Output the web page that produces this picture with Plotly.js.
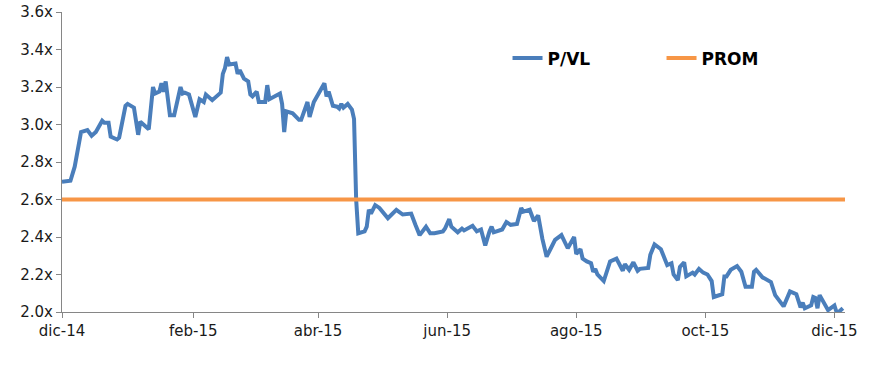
<!DOCTYPE html>
<html>
<head>
<meta charset="utf-8">
<script src="https://cdn.plot.ly/plotly-3.0.1.min.js"></script>
<style>html,body{margin:0;padding:0;background:#fff;}#chart{width:881px;height:370px;}</style>
</head>
<body>
<div id="chart"></div>
<script>
const dates = [
'2014-12-01','2014-12-05','2014-12-07','2014-12-09','2014-12-10','2014-12-13','2014-12-15','2014-12-17','2014-12-20','2014-12-21','2014-12-23','2014-12-24','2014-12-27','2014-12-28','2014-12-31',
'2015-01-01','2015-01-04','2015-01-06','2015-01-07','2015-01-11','2015-01-13','2015-01-14','2015-01-16','2015-01-17','2015-01-18','2015-01-19','2015-01-21','2015-01-23','2015-01-26','2015-01-27','2015-01-28','2015-01-30',
'2015-02-02','2015-02-04','2015-02-06','2015-02-07','2015-02-10','2015-02-14','2015-02-15','2015-02-16','2015-02-17','2015-02-18','2015-02-21','2015-02-22','2015-02-23','2015-02-25','2015-02-27','2015-02-28',
'2015-03-01','2015-03-03','2015-03-04','2015-03-07','2015-03-08','2015-03-09','2015-03-14','2015-03-15','2015-03-16','2015-03-17','2015-03-20','2015-03-23','2015-03-24','2015-03-27','2015-03-28','2015-03-30','2015-03-31',
'2015-04-02','2015-04-04','2015-04-05','2015-04-06','2015-04-08','2015-04-10','2015-04-11','2015-04-12','2015-04-13','2015-04-15','2015-04-17','2015-04-18','2015-04-19','2015-04-20','2015-04-23','2015-04-24','2015-04-25','2015-04-26','2015-04-28','2015-04-30',
'2015-05-04','2015-05-08','2015-05-11','2015-05-15','2015-05-17','2015-05-19','2015-05-22','2015-05-24','2015-05-26','2015-05-30','2015-05-31',
'2015-06-02','2015-06-03','2015-06-06','2015-06-08','2015-06-09','2015-06-13','2015-06-15','2015-06-17','2015-06-19','2015-06-21','2015-06-22','2015-06-23','2015-06-27','2015-06-29',
'2015-07-01','2015-07-04','2015-07-06','2015-07-07','2015-07-10','2015-07-12','2015-07-14','2015-07-16','2015-07-18','2015-07-20','2015-07-22','2015-07-25','2015-07-28','2015-07-31',
'2015-08-01','2015-08-03','2015-08-04','2015-08-06','2015-08-08','2015-08-09','2015-08-10','2015-08-11','2015-08-14','2015-08-17','2015-08-20','2015-08-23','2015-08-24','2015-08-26','2015-08-28','2015-08-30','2015-08-31',
'2015-09-04','2015-09-05','2015-09-07','2015-09-10','2015-09-13','2015-09-15','2015-09-16','2015-09-18','2015-09-19','2015-09-21','2015-09-22','2015-09-25','2015-09-26','2015-09-28','2015-09-30',
'2015-10-02','2015-10-04','2015-10-05','2015-10-09','2015-10-10','2015-10-11','2015-10-13','2015-10-16','2015-10-18','2015-10-20','2015-10-23','2015-10-24','2015-10-25','2015-10-28','2015-10-31',
'2015-11-01','2015-11-03','2015-11-07','2015-11-10','2015-11-13','2015-11-15','2015-11-16','2015-11-17','2015-11-20','2015-11-21','2015-11-22','2015-11-23','2015-11-24','2015-11-28',
'2015-12-01','2015-12-02','2015-12-03','2015-12-05'
];

// P/VL series
const pvl = [
2.695,2.70,2.775,2.91,2.96,2.97,2.94,2.96,3.02,3.01,3.01,2.935,2.92,2.93,3.10,
3.11,3.09,2.945,3.015,2.975,3.20,3.165,3.175,3.22,3.175,3.23,3.05,3.05,3.20,3.165,3.17,3.16,
3.04,3.135,3.12,3.16,3.13,3.17,3.27,3.30,3.36,3.32,3.325,3.27,3.29,3.245,3.23,3.16,
3.15,3.175,3.12,3.12,3.21,3.135,3.165,3.11,2.96,3.07,3.06,3.025,3.025,3.12,3.04,3.12,3.14,
3.18,3.22,3.15,3.175,3.10,3.095,3.085,3.11,3.09,3.11,3.08,3.03,2.60,2.42,2.43,2.455,2.545,2.525,2.57,2.555,
2.50,2.545,2.52,2.525,2.465,2.41,2.455,2.42,2.42,2.43,2.445,
2.495,2.455,2.425,2.445,2.435,2.46,2.43,2.44,2.355,2.43,2.455,2.425,2.44,2.48,
2.465,2.47,2.555,2.535,2.545,2.485,2.515,2.39,2.295,2.34,2.385,2.41,2.34,2.40,
2.31,2.335,2.285,2.27,2.26,2.215,2.23,2.20,2.165,2.27,2.285,2.22,2.255,2.225,2.265,2.22,2.23,
2.235,2.305,2.36,2.335,2.25,2.26,2.20,2.17,2.24,2.265,2.19,2.21,2.20,2.23,2.21,
2.20,2.165,2.08,2.095,2.19,2.19,2.225,2.245,2.215,2.135,2.135,2.215,2.225,2.185,2.17,
2.16,2.09,2.03,2.11,2.095,2.025,2.05,2.02,2.035,2.08,2.075,2.02,2.09,2.01,
2.035,2.00,2.00,2.02
];

// PROM (average) line
const promDates = ['2014-12-01','2015-12-06'];
const prom = [2.6, 2.6];

// Axis ticks
const xTickDates = ['2014-12-01','2015-02-01','2015-04-01','2015-06-01','2015-08-01','2015-10-01','2015-12-01'];
const xTickLabels = ['dic-14','feb-15','abr-15','jun-15','ago-15','oct-15','dic-15'];
const yTickValues = [2.0,2.2,2.4,2.6,2.8,3.0,3.2,3.4,3.6];
const yTickLabels = ['2.0x','2.2x','2.4x','2.6x','2.8x','3.0x','3.2x','3.4x','3.6x'];

const traces = [
  {x: dates, y: pvl, name: 'P/VL', type: 'scatter', mode: 'lines',
   line: {color: '#4a7ebb', width: 4}},
  {x: promDates, y: prom, name: 'PROM', type: 'scatter', mode: 'lines',
   line: {color: '#f79646', width: 4}}
];

const axisFont = {family: 'DejaVu Sans, Verdana, sans-serif', size: 15, color: '#1a1a1a'};

const layout = {
  width: 881, height: 370,
  margin: {l: 62, r: 36, t: 12, b: 58},
  paper_bgcolor: '#ffffff', plot_bgcolor: '#ffffff',
  showlegend: true,
  legend: {
    orientation: 'h', x: 0.569, y: 0.845, xanchor: 'left', yanchor: 'middle',
    font: {family: 'DejaVu Sans, Verdana, sans-serif', size: 17, color: '#000000', weight: 'bold'},
    entrywidth: 109, entrywidthmode: 'pixels', bgcolor: 'rgba(0,0,0,0)'
  },
  xaxis: {
    type: 'date', range: ['2014-12-01', '2015-12-06'],
    tickmode: 'array', tickvals: xTickDates, ticktext: xTickLabels,
    showgrid: false, zeroline: false, showline: true, linecolor: '#868686', linewidth: 1,
    ticks: 'outside', ticklen: 5, tickcolor: '#868686', tickfont: axisFont
  },
  yaxis: {
    range: [2.0, 3.6], tickmode: 'array', tickvals: yTickValues, ticktext: yTickLabels,
    showgrid: false, zeroline: false, showline: true, linecolor: '#868686', linewidth: 1,
    ticks: 'outside', ticklen: 5, tickcolor: '#868686', tickfont: axisFont
  }
};

Plotly.newPlot('chart', traces, layout, {displayModeBar: false, staticPlot: true});
</script>
</body>
</html>
